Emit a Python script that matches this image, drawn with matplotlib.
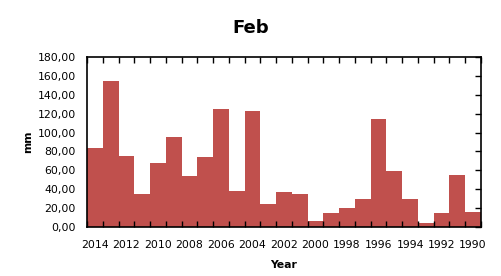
import numpy as np
import matplotlib.pyplot as plt
from matplotlib.ticker import FuncFormatter, FixedLocator

years = list(range(2014, 1989, -1))
rain_mm = [83.3, 155.0, 75.5, 35.3, 67.4, 95.7, 53.6, 74.5, 125.3, 38.5,
           123.2, 24.7, 37.4, 35.3, 6.7, 15.2, 20.5, 30.0, 114.7, 59.7,
           30.0, 4.6, 15.2, 55.4, 16.2]

fig = plt.figure(figsize=(5.01, 2.76), dpi=100)
ax = fig.add_axes([0.1737, 0.1775, 0.7863, 0.616])

x = np.arange(len(years))
ax.bar(x, rain_mm, width=1.0, color='#C0504D', linewidth=0)

ax.set_xlim(-0.5, len(years) - 0.5)
ax.set_ylim(0, 180)

# year labels every other bar, tick marks at bar edges
ax.set_xticks(x[::2])
ax.set_xticklabels([str(y) for y in years[::2]], fontsize=7.8)
ax.xaxis.set_minor_locator(FixedLocator(np.arange(-0.5, len(years), 1.0)))
ax.tick_params(axis='x', which='major', length=0, pad=9.5)
ax.tick_params(axis='x', which='minor', direction='in', length=4, width=1,
               top=True, bottom=True)

ax.set_yticks(np.arange(0, 181, 20))
ax.yaxis.set_major_formatter(FuncFormatter(lambda v, p: f"{v:.2f}".replace('.', ',')))
ax.tick_params(axis='y', which='major', labelsize=7.8, direction='in', length=4,
               width=1, left=False, right=True, pad=8)

for s in ax.spines.values():
    s.set_linewidth(1.2)

ax.set_xlabel('Year', fontsize=7.8, fontweight='bold', labelpad=7)
ax.set_ylabel('mm', fontsize=7.8, fontweight='bold', labelpad=3)
fig.text(0.5, 0.90, 'Feb', ha='center', va='center', fontsize=13, fontweight='bold')

fig.savefig('out.png', dpi=100)
